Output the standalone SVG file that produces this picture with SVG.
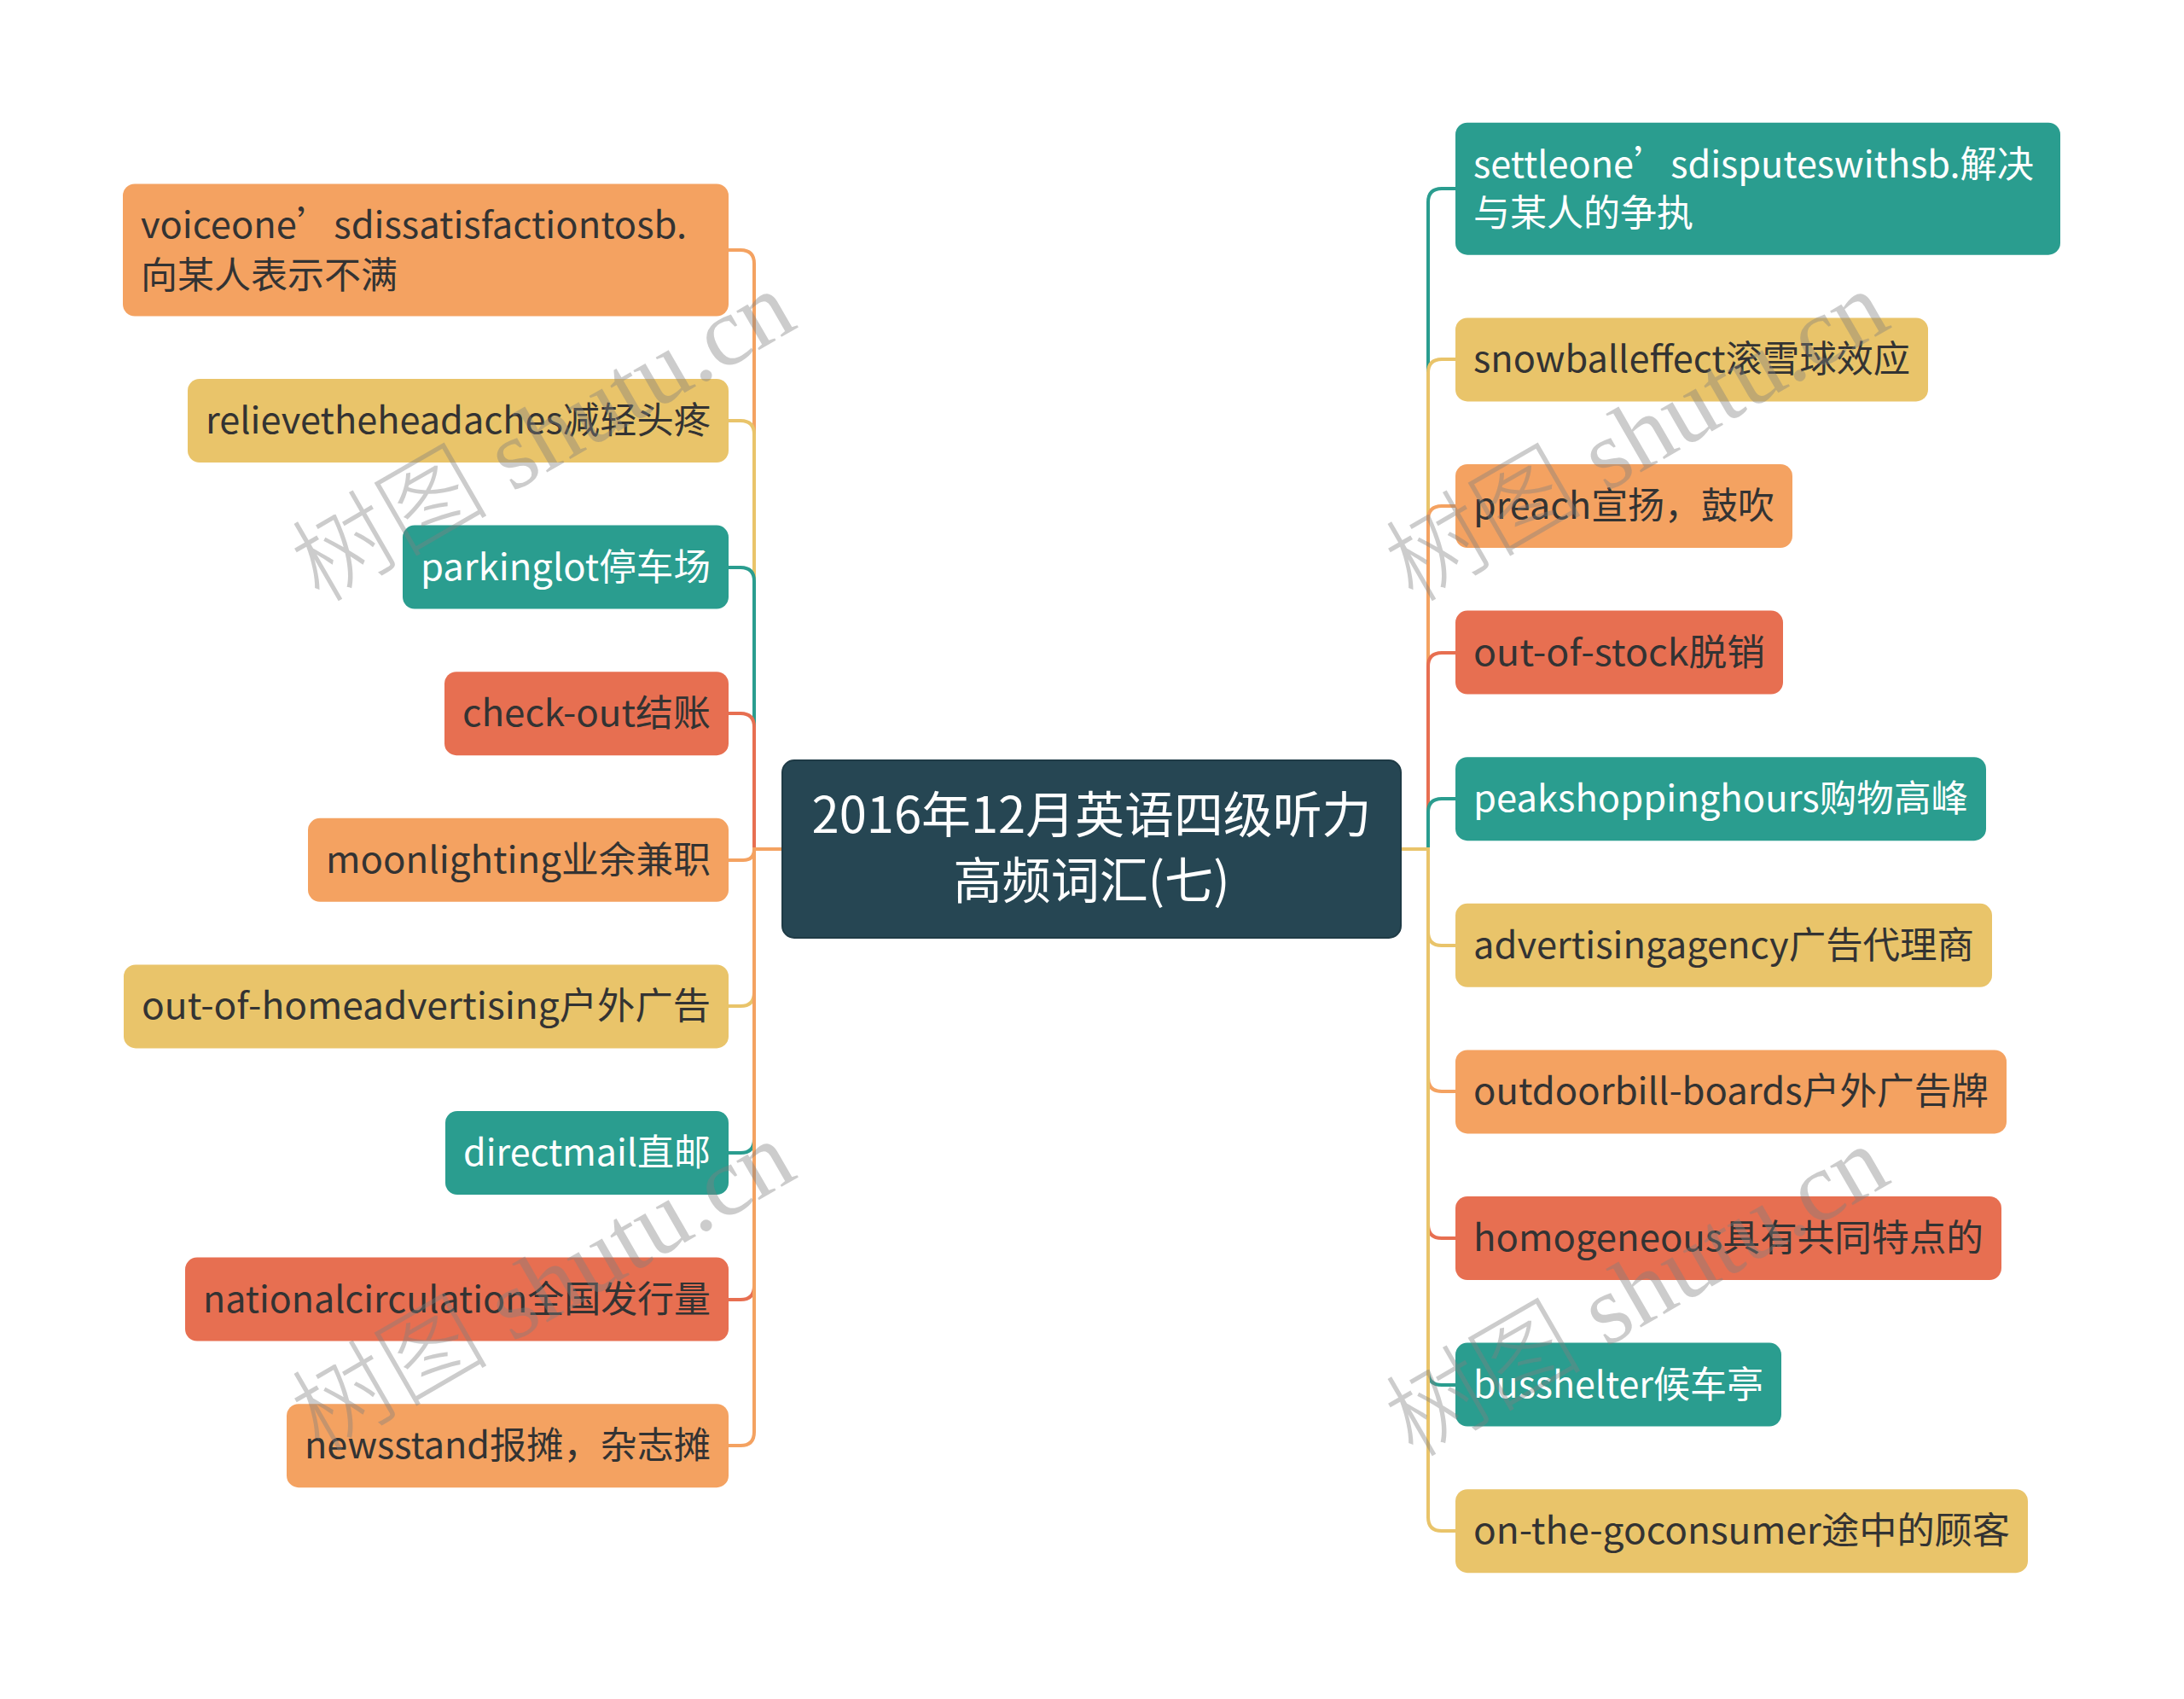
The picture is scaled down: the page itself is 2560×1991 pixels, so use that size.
<svg xmlns="http://www.w3.org/2000/svg" width="2560" height="1991" viewBox="0 0 2560 1991">
<style>
.n text{font-family:"Noto Sans CJK SC","Noto Sans",sans-serif;font-size:43px;}
.dk{fill:#333333}
.wt{fill:#ffffff}
.teal{fill:#2A9D8F}
.yel{fill:#E9C46A}
.ora{fill:#F4A261}
.red{fill:#E76F51}
.c path{fill:none;stroke-width:4;}
.ct{stroke:#2A9D8F}
.cy{stroke:#E9C46A}
.co{stroke:#F4A261}
.cr{stroke:#E76F51}
.root text{font-family:"Noto Sans CJK SC","Noto Sans",sans-serif;font-size:58px;fill:#ffffff;text-anchor:middle}
.wm{font-family:"Liberation Serif","Noto Sans CJK SC",serif;font-size:115px;fill:#808080;fill-opacity:0.4;text-anchor:middle;font-weight:300}
</style>
<rect width="2560" height="1991" fill="#ffffff"/>
<g id="connectors" class="c">
<path class="co" d="M917,995 H884 V309 Q884,293 868,293 H854"/>
<path class="cy" d="M917,995 H884 V509 Q884,493 868,493 H854"/>
<path class="ct" d="M917,995 H884 V681 Q884,665 868,665 H854"/>
<path class="cr" d="M917,995 H884 V852 Q884,836 868,836 H854"/>
<path class="co" d="M917,995 H884 Q884,1008 871,1008 H854"/>
<path class="cy" d="M917,995 H884 V1163 Q884,1179 868,1179 H854"/>
<path class="ct" d="M917,995 H884 V1335 Q884,1351 868,1351 H854"/>
<path class="cr" d="M917,995 H884 V1507 Q884,1523 868,1523 H854"/>
<path class="co" d="M917,995 H884 V1678 Q884,1694 868,1694 H854"/>
<path class="ct" d="M1642,995 H1674 V237 Q1674,221 1690,221 H1706"/>
<path class="cy" d="M1642,995 H1674 V437 Q1674,421 1690,421 H1706"/>
<path class="co" d="M1642,995 H1674 V609 Q1674,593 1690,593 H1706"/>
<path class="cr" d="M1642,995 H1674 V781 Q1674,765 1690,765 H1706"/>
<path class="ct" d="M1642,995 H1674 V952 Q1674,936 1690,936 H1706"/>
<path class="cy" d="M1642,995 H1674 V1092 Q1674,1108 1690,1108 H1706"/>
<path class="co" d="M1642,995 H1674 V1263 Q1674,1279 1690,1279 H1706"/>
<path class="cr" d="M1642,995 H1674 V1435 Q1674,1451 1690,1451 H1706"/>
<path class="ct" d="M1642,995 H1674 V1607 Q1674,1623 1690,1623 H1706"/>
<path class="cy" d="M1642,995 H1674 V1778 Q1674,1794 1690,1794 H1706"/>
</g>
<g id="root" class="root">
<rect x="917" y="891" width="725" height="208" rx="14" fill="#264653" stroke="#1f3b46" stroke-width="2"/>
<text x="1279.5" y="976" textLength="656" lengthAdjust="spacingAndGlyphs">2016年12月英语四级听力</text>
<text x="1279.5" y="1053" textLength="324" lengthAdjust="spacingAndGlyphs">高频词汇(七)</text>
</g>
<g id="l1" class="n"><rect class="ora" x="144" y="215.5" width="710" height="155" rx="14"/><text class="dk" x="165" y="278.5" textLength="640" lengthAdjust="spacingAndGlyphs">voiceone’sdissatisfactiontosb.</text><text class="dk" x="165" y="337.5" textLength="301" lengthAdjust="spacingAndGlyphs">向某人表示不满</text></g>
<g id="l2" class="n"><rect class="yel" x="220" y="444" width="634" height="98" rx="14"/><text class="dk" x="241" y="508" textLength="592" lengthAdjust="spacingAndGlyphs">relievetheheadaches减轻头疼</text></g>
<g id="l3" class="n"><rect class="teal" x="472" y="615.6" width="382" height="98" rx="14"/><text class="wt" x="493" y="680" textLength="340" lengthAdjust="spacingAndGlyphs">parkinglot停车场</text></g>
<g id="l4" class="n"><rect class="red" x="521" y="787.2" width="333" height="98" rx="14"/><text class="dk" x="542" y="851" textLength="291" lengthAdjust="spacingAndGlyphs">check-out结账</text></g>
<g id="l5" class="n"><rect class="ora" x="361" y="958.8" width="493" height="98" rx="14"/><text class="dk" x="382" y="1023" textLength="451" lengthAdjust="spacingAndGlyphs">moonlighting业余兼职</text></g>
<g id="l6" class="n"><rect class="yel" x="145" y="1130.4" width="709" height="98" rx="14"/><text class="dk" x="166" y="1194" textLength="667" lengthAdjust="spacingAndGlyphs">out-of-homeadvertising户外广告</text></g>
<g id="l7" class="n"><rect class="teal" x="522" y="1302" width="332" height="98" rx="14"/><text class="wt" x="543" y="1366" textLength="290" lengthAdjust="spacingAndGlyphs">directmail直邮</text></g>
<g id="l8" class="n"><rect class="red" x="217" y="1473.6" width="637" height="98" rx="14"/><text class="dk" x="238" y="1538" textLength="595" lengthAdjust="spacingAndGlyphs">nationalcirculation全国发行量</text></g>
<g id="l9" class="n"><rect class="ora" x="336" y="1645.2" width="518" height="98" rx="14"/><text class="dk" x="357" y="1709" textLength="476" lengthAdjust="spacingAndGlyphs">newsstand报摊，杂志摊</text></g>
<g id="r1" class="n"><rect class="teal" x="1706" y="143.7" width="709" height="155" rx="14"/><text class="wt" x="1727" y="207.7" textLength="657" lengthAdjust="spacingAndGlyphs">settleone’sdisputeswithsb.解决</text><text class="wt" x="1727" y="264.8" textLength="258" lengthAdjust="spacingAndGlyphs">与某人的争执</text></g>
<g id="r2" class="n"><rect class="yel" x="1706" y="372.4" width="554" height="98" rx="14"/><text class="dk" x="1727" y="436.4" textLength="512" lengthAdjust="spacingAndGlyphs">snowballeffect滚雪球效应</text></g>
<g id="r3" class="n"><rect class="ora" x="1706" y="544" width="395" height="98" rx="14"/><text class="dk" x="1727" y="608" textLength="353" lengthAdjust="spacingAndGlyphs">preach宣扬，鼓吹</text></g>
<g id="r4" class="n"><rect class="red" x="1706" y="715.6" width="384" height="98" rx="14"/><text class="dk" x="1727" y="780" textLength="342" lengthAdjust="spacingAndGlyphs">out-of-stock脱销</text></g>
<g id="r5" class="n"><rect class="teal" x="1706" y="887.2" width="622" height="98" rx="14"/><text class="wt" x="1727" y="951" textLength="580" lengthAdjust="spacingAndGlyphs">peakshoppinghours购物高峰</text></g>
<g id="r6" class="n"><rect class="yel" x="1706" y="1058.8" width="629" height="98" rx="14"/><text class="dk" x="1727" y="1123" textLength="587" lengthAdjust="spacingAndGlyphs">advertisingagency广告代理商</text></g>
<g id="r7" class="n"><rect class="ora" x="1706" y="1230.4" width="646" height="98" rx="14"/><text class="dk" x="1727" y="1294" textLength="604" lengthAdjust="spacingAndGlyphs">outdoorbill-boards户外广告牌</text></g>
<g id="r8" class="n"><rect class="red" x="1706" y="1402" width="640" height="98" rx="14"/><text class="dk" x="1727" y="1466" textLength="598" lengthAdjust="spacingAndGlyphs">homogeneous具有共同特点的</text></g>
<g id="r9" class="n"><rect class="teal" x="1706" y="1573.6" width="382" height="98" rx="14"/><text class="wt" x="1727" y="1638" textLength="340" lengthAdjust="spacingAndGlyphs">busshelter候车亭</text></g>
<g id="r10" class="n"><rect class="yel" x="1706" y="1745.2" width="671" height="98" rx="14"/><text class="dk" x="1727" y="1809" textLength="629" lengthAdjust="spacingAndGlyphs">on-the-goconsumer途中的顾客</text></g>
<g id="watermark" class="wm">
<text transform="translate(656,545) rotate(-30)" textLength="650" lengthAdjust="spacingAndGlyphs">树图 shutu.cn</text>
<text transform="translate(1938,545) rotate(-30)" textLength="650" lengthAdjust="spacingAndGlyphs">树图 shutu.cn</text>
<text transform="translate(656,1541) rotate(-30)" textLength="650" lengthAdjust="spacingAndGlyphs">树图 shutu.cn</text>
<text transform="translate(1938,1547) rotate(-30)" textLength="650" lengthAdjust="spacingAndGlyphs">树图 shutu.cn</text>
</g>
</svg>
